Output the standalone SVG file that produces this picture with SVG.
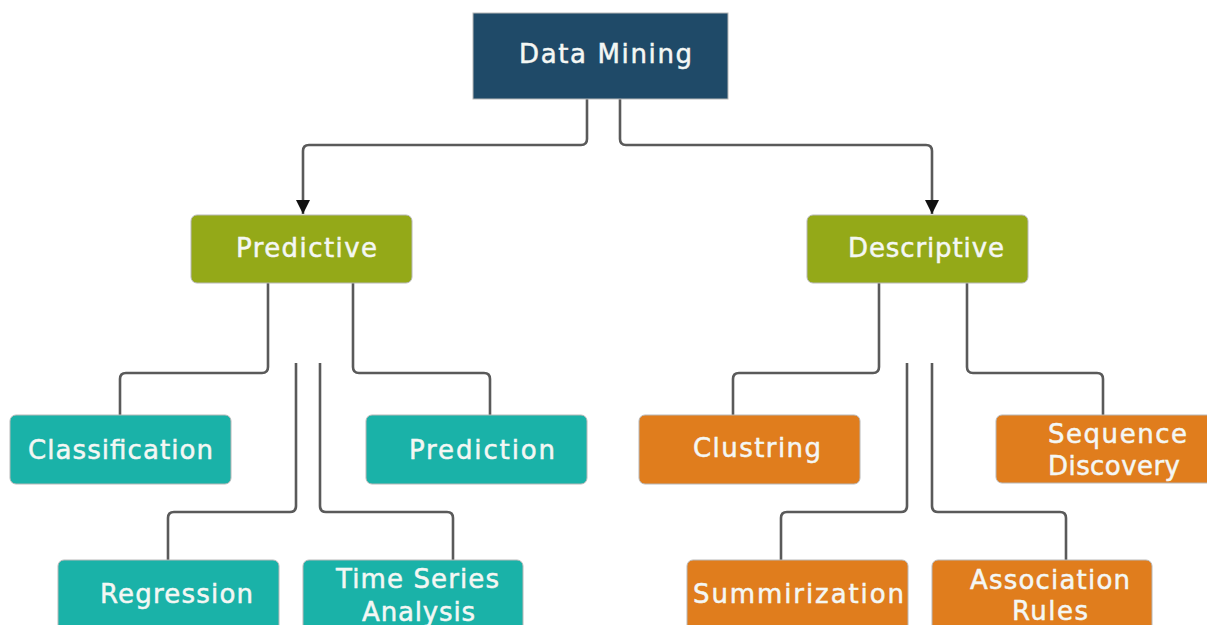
<svg xmlns="http://www.w3.org/2000/svg" width="1207" height="625" viewBox="0 0 1207 625">
<style>
.box{stroke:#b8b8b8;stroke-width:1}
.root{fill:#1f4a68}
.lvl1{fill:#94a918}
.teal{fill:#1ab2a8}
.orange{fill:#e07d1d}
.t{font-family:"DejaVu Sans","Liberation Sans",sans-serif;font-size:26px;fill:#f4f7f4;stroke:#f4f7f4;stroke-width:0.5}
.c{fill:none;stroke:#5a5a5a;stroke-width:2.6;stroke-linejoin:round}
</style>
<defs>
<marker id="arr" markerWidth="14" markerHeight="14" refX="14" refY="7" orient="auto" markerUnits="userSpaceOnUse" viewBox="0 0 14 14">
<path d="M0,0 L14,7 L0,14 Z" fill="#111"/>
</marker>
</defs>
<rect width="1207" height="625" fill="#fff"/>
<g id="connectors">
<path class="c" d="M587,99 V139 Q587,145 581,145 H309 Q303,145 303,151 V214" marker-end="url(#arr)"/>
<path class="c" d="M620,99 V139 Q620,145 626,145 H926 Q932,145 932,151 V214" marker-end="url(#arr)"/>
<path class="c" d="M268,283 V367 Q268,373 262,373 H126 Q120,373 120,379 V415"/>
<path class="c" d="M353,283 V367 Q353,373 359,373 H484 Q490,373 490,379 V415"/>
<path class="c" d="M296,363 V506 Q296,512 290,512 H174 Q168,512 168,518 V560"/>
<path class="c" d="M320,363 V506 Q320,512 326,512 H447 Q453,512 453,518 V560"/>
<path class="c" d="M879,283 V367 Q879,373 873,373 H739 Q733,373 733,379 V415"/>
<path class="c" d="M967,283 V367 Q967,373 973,373 H1097 Q1103,373 1103,379 V415"/>
<path class="c" d="M907,363 V506 Q907,512 901,512 H787 Q781,512 781,518 V560"/>
<path class="c" d="M932,363 V506 Q932,512 938,512 H1060 Q1066,512 1066,518 V560"/>
</g>
<g id="data-mining">
<rect class="box root" x="473" y="13" width="255" height="86"/>
<text class="t" x="519" y="63" textLength="173">Data Mining</text>
</g>
<g id="predictive">
<rect class="box lvl1" x="191" y="215" width="221" height="68" rx="6"/>
<text class="t" x="236" y="257" textLength="141">Predictive</text>
</g>
<g id="descriptive">
<rect class="box lvl1" x="807" y="215" width="221" height="68" rx="6"/>
<text class="t" x="848" y="257" textLength="156">Descriptive</text>
</g>
<g id="classification">
<rect class="box teal" x="10" y="415" width="221" height="69" rx="6"/>
<text class="t" x="28" y="459" textLength="185">Classification</text>
</g>
<g id="prediction">
<rect class="box teal" x="366" y="415" width="221" height="69" rx="6"/>
<text class="t" x="409" y="459" textLength="146">Prediction</text>
</g>
<g id="regression">
<rect class="box teal" x="58" y="560" width="221" height="80" rx="6"/>
<text class="t" x="100" y="603" textLength="153">Regression</text>
</g>
<g id="time-series-analysis">
<rect class="box teal" x="303" y="560" width="220" height="80" rx="6"/>
<text class="t" x="336" y="588" textLength="163">Time Series</text>
<text class="t" x="362" y="621" textLength="113">Analysis</text>
</g>
<g id="clustring">
<rect class="box orange" x="639" y="415" width="221" height="69" rx="6"/>
<text class="t" x="693" y="457" textLength="128">Clustring</text>
</g>
<g id="sequence-discovery">
<rect class="box orange" x="996" y="415" width="221" height="68" rx="6"/>
<text class="t" x="1048" y="443" textLength="139">Sequence</text>
<text class="t" x="1048" y="475" textLength="132">Discovery</text>
</g>
<g id="summirization">
<rect class="box orange" x="687" y="560" width="221" height="80" rx="6"/>
<text class="t" x="693" y="603" textLength="211">Summirization</text>
</g>
<g id="association-rules">
<rect class="box orange" x="932" y="560" width="220" height="80" rx="6"/>
<text class="t" x="970" y="589" textLength="160">Association</text>
<text class="t" x="1012" y="620" textLength="76">Rules</text>
</g>
</svg>
